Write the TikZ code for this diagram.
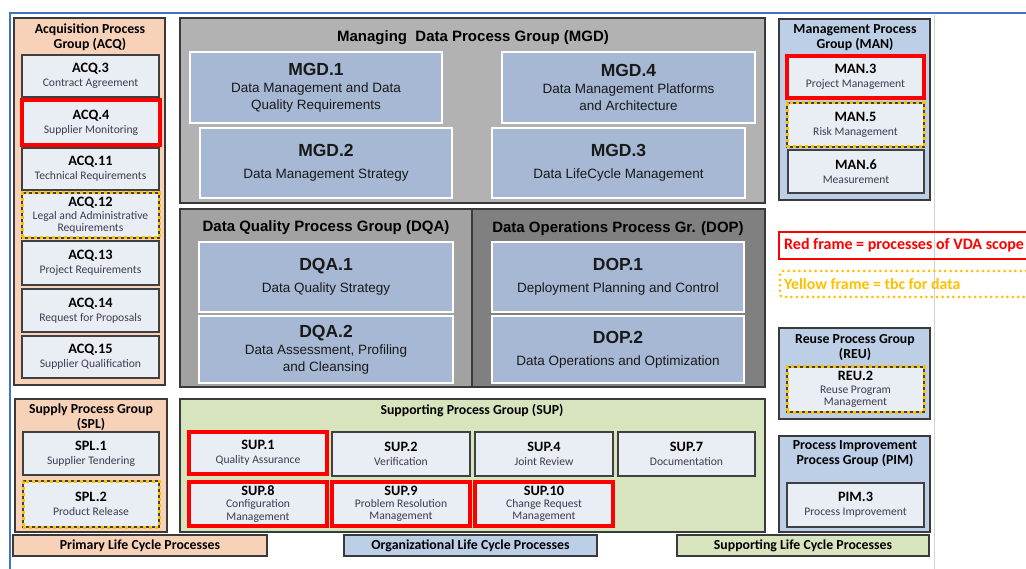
\documentclass[tikz,border=0pt]{standalone}
\usepackage{fontspec}
\setmainfont{Carlito}
\newfontfamily\arialf{Liberation Sans}
\definecolor{peach}{HTML}{F8D2B8}
\definecolor{pfill}{HTML}{E9EDF4}
\definecolor{pline}{HTML}{404040}
\definecolor{gline}{HTML}{3A3A3A}
\definecolor{bluegrp}{HTML}{BDCFE6}
\definecolor{greengrp}{HTML}{D7E4BD}
\definecolor{mfill}{HTML}{A7B8D4}
\definecolor{mgdgray}{HTML}{B2B2B2}
\definecolor{dqagray}{HTML}{A2A2A2}
\definecolor{dopgray}{HTML}{808080}
\definecolor{gold}{HTML}{FFC000}
\definecolor{subtext}{HTML}{3C3C50}
\definecolor{frameblue}{HTML}{4472C4}
\newcommand\tsz{\fontsize{13.8}{15}\selectfont\bfseries}
\newcommand\psz{\fontsize{14.3}{15}\selectfont\bfseries}
\newcommand\ssz{\fontsize{11.6}{12.3}\selectfont}
\newcommand\ptl[1]{{\color{black}\psz #1}}
\newcommand\mtl[1]{{\fontsize{17.5}{20}\selectfont\bfseries #1}}
\tikzset{
  bx/.style n args={4}{minimum width=#3pt-#1pt, minimum height=#4pt-#2pt, at={({(#1+#3)/2},{(#2+#4)/2})}},
  grp/.style={draw=gline, line width=1.2pt, inner sep=0pt},
  proc/.style={draw=pline, line width=1.3pt, fill=pfill, align=center, inner sep=0pt, font=\ssz, text=subtext},
  redp/.style={proc, draw=red, line width=3.4pt},
  yelp/.style={proc, postaction={draw=gold, line width=3pt, dash pattern=on 3pt off 3pt}},
  mgdp/.style={draw=white, line width=1.6pt, fill=mfill, align=center, inner sep=0pt, font=\arialf\fontsize{13.5}{17}\selectfont, text=black!90},
  gtitle/.style={font=\tsz, align=center, inner sep=0pt},
  mtitle/.style={font=\arialf\fontsize{15}{17}\selectfont\bfseries, inner sep=0pt},
  bar/.style={draw=gline, line width=1.2pt, inner sep=0pt, font=\tsz},
}
\begin{document}
\begin{tikzpicture}[x=1pt,y=-1pt]
\useasboundingbox (0,0) rectangle (1026,569);
\fill[white] (0,0) rectangle (1026,569);
% frame lines
\coordinate (tl) at (10,13);
\coordinate (tr) at (1026,13);
\coordinate (bl) at (10,569);
\coordinate (gt) at (934,15);
\coordinate (gb) at (934,569);
\draw[black!18, line width=0.8pt] (gt) -- (gb);
\draw[frameblue, line width=2.6pt] (bl) -- (tl) -- (tr);

% ---------- ACQ ----------
\node[grp, fill=peach, bx={14}{18}{165}{385}] (acq) {};
\node[gtitle] (acqt) at (90,37.5) {Acquisition Process\\Group (ACQ)};
\node[proc, bx={22}{55}{159}{97}] (acq3) {\ptl{ACQ.3}\\[1.5pt]Contract Agreement};
\node[redp, bx={22}{100}{160}{145}] (acq4) {\ptl{ACQ.4}\\[1.5pt]Supplier Monitoring};
\node[proc, bx={22}{148}{159}{190}] (acq11) {\ptl{ACQ.11}\\[1.5pt]Technical Requirements};
\node[yelp, bx={22}{193}{159}{238}] (acq12) {\ptl{ACQ.12}\\Legal and Administrative\\Requirements};
\node[proc, bx={22}{241}{159}{285}] (acq13) {\ptl{ACQ.13}\\[1.5pt]Project Requirements};
\node[proc, bx={22}{289}{159}{332}] (acq14) {\ptl{ACQ.14}\\[1.5pt]Request for Proposals};
\node[proc, bx={22}{336}{159}{378}] (acq15) {\ptl{ACQ.15}\\[1.5pt]Supplier Qualification};

% ---------- SPL ----------
\node[grp, fill=peach, bx={15}{399}{167}{532}] (spl) {};
\node[gtitle] (splt) at (91,417) {Supply Process Group\\(SPL)};
\node[proc, bx={23}{432}{159}{475}] (spl1) {\ptl{SPL.1}\\[1.5pt]Supplier Tendering};
\node[yelp, bx={23}{481}{159}{527}] (spl2) {\ptl{SPL.2}\\[1.5pt]Product Release};

% ---------- MGD ----------
\node[grp, fill=mgdgray, bx={180}{18}{765}{203}] (mgd) {};
\node[mtitle] (mgdt) at (473,38) {Managing\ \ Data Process Group (MGD)};
\node[mgdp, bx={190}{52}{442}{123}] (mgd1) {\mtl{MGD.1}\\Data Management and Data\\Quality Requirements};
\node[mgdp, bx={200}{128}{452}{198}] (mgd2) {\mtl{MGD.2}\\[5pt]Data Management Strategy};
\node[mgdp, bx={502}{52}{755}{123}] (mgd4) {\mtl{MGD.4}\\Data Management Platforms\\and Architecture};
\node[mgdp, bx={492}{128}{745}{198}] (mgd3) {\mtl{MGD.3}\\[5pt]Data LifeCycle Management};

% ---------- DQA / DOP ----------
\node[grp, fill=dqagray, bx={180}{209}{472}{387}] (dqa) {};
\node[grp, fill=dopgray, bx={472}{209}{765}{387}] (dop) {};
\node[mtitle] (dqat) at (326,228) {Data Quality\ Process Group (DQA)};
\node[mtitle] (dopt) at (618,229) {Data Operations\ Process Gr. (DOP)};
\node[mgdp, bx={199}{242}{453}{312}] (dqa1) {\mtl{DQA.1}\\[5pt]Data Quality Strategy};
\node[mgdp, bx={199}{316}{453}{383}] (dqa2) {\mtl{DQA.2}\\Data Assessment, Profiling\\and Cleansing};
\node[mgdp, bx={492}{242}{744}{312}] (dop1) {\mtl{DOP.1}\\[5pt]Deployment Planning and Control};
\node[mgdp, bx={492}{316}{744}{383}] (dop2) {\mtl{DOP.2}\\[5pt]Data Operations and Optimization};

% ---------- SUP ----------
\node[grp, fill=greengrp, bx={180}{399}{765}{532}] (sup) {};
\node[gtitle] (supt) at (472,411) {Supporting Process Group (SUP)};
\node[redp, bx={189}{432}{327}{474}] (sup1) {\ptl{SUP.1}\\[1.5pt]Quality Assurance};
\node[proc, bx={332}{432}{470}{476}] (sup2) {\ptl{SUP.2}\\[1.5pt]Verification};
\node[proc, bx={475}{432}{613}{476}] (sup4) {\ptl{SUP.4}\\[1.5pt]Joint Review};
\node[proc, bx={618}{432}{755}{476}] (sup7) {\ptl{SUP.7}\\[1.5pt]Documentation};
\node[redp, bx={189}{482}{327}{526}] (sup8) {\ptl{SUP.8}\\Configuration\\Management};
\node[redp, bx={332}{482}{470}{526}] (sup9) {\ptl{SUP.9}\\Problem Resolution\\Management};
\node[redp, bx={475}{482}{613}{526}] (sup10) {\ptl{SUP.10}\\Change Request\\Management};

% ---------- MAN ----------
\node[grp, fill=bluegrp, bx={779}{19}{930}{200}] (man) {};
\node[gtitle] (mant) at (855,37.5) {Management Process\\Group (MAN)};
\node[redp, bx={787}{56}{924}{98}] (man3) {\ptl{MAN.3}\\[1.5pt]Project Management};
\node[yelp, bx={787}{103}{924}{147}] (man5) {\ptl{MAN.5}\\[1.5pt]Risk Management};
\node[proc, bx={788}{150}{924}{193}] (man6) {\ptl{MAN.6}\\[1.5pt]Measurement};

% ---------- legend ----------
\node[draw=red, line width=2.6pt, inner sep=0pt, bx={779}{232}{1040}{259}] (redframe) {};
\node[anchor=west, inner sep=0pt, text=red, font=\fontsize{16}{17}\selectfont\bfseries] (redtxt) at (784,245.5) {Red frame = processes of VDA scope};
\node[draw=gold, line width=3pt, dash pattern=on 0pt off 5.4pt, line cap=round, rounded corners=3pt, inner sep=0pt, bx={780}{271}{1040}{297}] (yelframe) {};
\node[anchor=west, inner sep=0pt, text=gold, font=\fontsize{15.8}{17}\selectfont\bfseries] (yeltxt) at (784,284) {Yellow frame = tbc for data};

% ---------- REU ----------
\node[grp, fill=bluegrp, bx={779}{328}{930}{419}] (reu) {};
\node[gtitle] (reut) at (855,348) {Reuse Process Group\\(REU)};
\node[yelp, bx={787}{367}{924}{412}] (reu2) {\ptl{REU.2}\\Reuse Program\\Management};

% ---------- PIM ----------
\node[grp, fill=bluegrp, bx={779}{436}{930}{532}] (pim) {};
\node[gtitle] (pimt) at (855,454) {Process Improvement\\Process Group (PIM)};
\node[proc, bx={787}{483}{924}{527}] (pim3) {\ptl{PIM.3}\\[1.5pt]Process Improvement};

% ---------- bottom bars ----------
\node[bar, fill=peach, bx={13}{535}{267}{556}] (primary) {Primary Life Cycle Processes};
\node[bar, fill=bluegrp, bx={344}{535}{597}{556}] (orgbar) {Organizational Life Cycle Processes};
\node[bar, fill=greengrp, bx={677}{535}{929}{556}] (suppbar) {Supporting Life Cycle Processes};
\end{tikzpicture}
\end{document}
